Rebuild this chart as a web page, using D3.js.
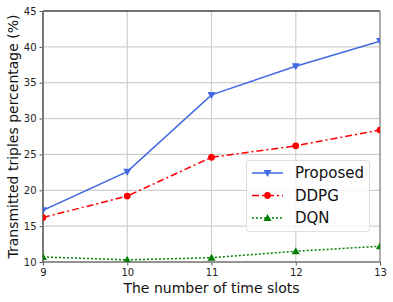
<!DOCTYPE html>
<html><head><meta charset="utf-8">
<script src="https://cdn.jsdelivr.net/npm/d3@7"></script>
<style>body{margin:0;background:#fff}svg{display:block}</style>
</head><body>
<script>
const slots = [9, 10, 11, 12, 13];
const proposed = [17.2, 22.6, 33.3, 37.3, 40.8];
const ddpg = [16.2, 19.2, 24.6, 26.2, 28.4];
const dqn = [10.7, 10.3, 10.6, 11.5, 12.2];
const yTicks = [10, 15, 20, 25, 30, 35, 40, 45];
const seriesNames = ["Proposed", "DDPG", "DQN"];

const W = 393, H = 302;
const m = {l: 43, r: 13, t: 11, b: 40};
const svg = d3.select("body").append("svg").attr("width", W).attr("height", H);
const x = d3.scaleLinear().domain([9, 13]).range([m.l, W - m.r]);
const y = d3.scaleLinear().domain([10, 45]).range([H - m.b, m.t]);
const font = "DejaVu Sans, sans-serif";

svg.append("defs").append("clipPath").attr("id", "clip")
  .append("rect").attr("x", m.l).attr("y", m.t).attr("width", W - m.r - m.l).attr("height", H - m.b - m.t);

// grid
const g = svg.append("g");
g.selectAll(".gx").data(slots).enter().append("line")
  .attr("x1", d => x(d)).attr("x2", d => x(d)).attr("y1", m.t).attr("y2", H - m.b)
  .attr("stroke", "#d0d0d0").attr("stroke-width", 1.2);
g.selectAll(".gy").data(yTicks).enter().append("line")
  .attr("x1", m.l).attr("x2", W - m.r).attr("y1", d => y(d)).attr("y2", d => y(d))
  .attr("stroke", "#d0d0d0").attr("stroke-width", 1.2);

// axes
const xAxis = svg.append("g").attr("transform", `translate(0,${H - m.b})`)
  .call(d3.axisBottom(x).tickValues(slots).tickFormat(d3.format("d")).tickSize(3.5).tickPadding(3));
const yAxis = svg.append("g").attr("transform", `translate(${m.l},0)`)
  .call(d3.axisLeft(y).tickValues(yTicks).tickSize(3.5).tickPadding(3));
[xAxis, yAxis].forEach(a => {
  a.select(".domain").remove();
  a.selectAll("line").attr("stroke", "#555").attr("stroke-width", 1);
  a.selectAll("text").attr("font-family", font).attr("font-size", 10).attr("fill", "#222");
});

// spines
svg.append("line").attr("x1", m.l).attr("x2", W - m.r).attr("y1", m.t).attr("y2", m.t).attr("stroke", "#000").attr("stroke-width", 1.2);
svg.append("line").attr("x1", W - m.r).attr("x2", W - m.r).attr("y1", m.t).attr("y2", H - m.b).attr("stroke", "#888").attr("stroke-width", 1.2);
svg.append("line").attr("x1", m.l).attr("x2", W - m.r).attr("y1", H - m.b).attr("y2", H - m.b).attr("stroke", "#777").attr("stroke-width", 1.5);
svg.append("line").attr("x1", m.l).attr("x2", m.l).attr("y1", m.t).attr("y2", H - m.b).attr("stroke", "#777").attr("stroke-width", 2);

const series = [
  {name: seriesNames[0], vals: proposed, color: "#4169e1", dash: null, marker: "tdown"},
  {name: seriesNames[1], vals: ddpg, color: "#ff0000", dash: "7,3,2,3", marker: "circle"},
  {name: seriesNames[2], vals: dqn, color: "#008000", dash: "2,2", marker: "tup"}
];
function markerPath(type) {
  if (type === "circle") return d3.symbol().type(d3.symbolCircle).size(36)();
  if (type === "tup") return "M0,-4L4,3L-4,3Z";
  return "M0,4L4,-3L-4,-3Z";
}
const line = d3.line().x((d, i) => x(slots[i])).y(d => y(d));
const plot = svg.append("g").attr("clip-path", "url(#clip)");
series.forEach(s => {
  plot.append("path").datum(s.vals).attr("d", line).attr("fill", "none")
    .attr("stroke", s.color).attr("stroke-width", 1.5).attr("stroke-dasharray", s.dash);
  plot.selectAll(null).data(s.vals).enter().append("path")
    .attr("d", markerPath(s.marker))
    .attr("transform", (d, i) => `translate(${x(slots[i])},${y(d)})`)
    .attr("fill", s.color);
});

// legend
const lg = svg.append("g");
lg.append("rect").attr("x", 246.5).attr("y", 160.5).attr("width", 123).attr("height", 71).attr("rx", 3)
  .attr("fill", "#fff").attr("fill-opacity", 0.8).attr("stroke", "#ddd");
series.forEach((s, i) => {
  const yy = 173 + i * 22.5;
  lg.append("line").attr("x1", 252).attr("x2", 283).attr("y1", yy).attr("y2", yy)
    .attr("stroke", s.color).attr("stroke-width", 1.5).attr("stroke-dasharray", s.dash);
  lg.append("path").attr("d", markerPath(s.marker)).attr("transform", `translate(267.5,${yy})`).attr("fill", s.color);
  lg.append("text").attr("x", 295).attr("y", yy).attr("dy", "0.36em").text(s.name)
    .attr("font-family", font).attr("font-size", 15).attr("fill", "#111");
});

// labels
svg.append("text").attr("x", (m.l + W - m.r) / 2).attr("y", 293).attr("text-anchor", "middle")
  .attr("font-family", font).attr("font-size", 14).attr("fill", "#111").text("The number of time slots");
svg.append("text").attr("transform", `translate(18,${(m.t + H - m.b) / 2}) rotate(-90)`).attr("text-anchor", "middle")
  .attr("font-family", font).attr("font-size", 14).attr("fill", "#111").text("Transmitted triples percentage (%)");
</script>
</body></html>
